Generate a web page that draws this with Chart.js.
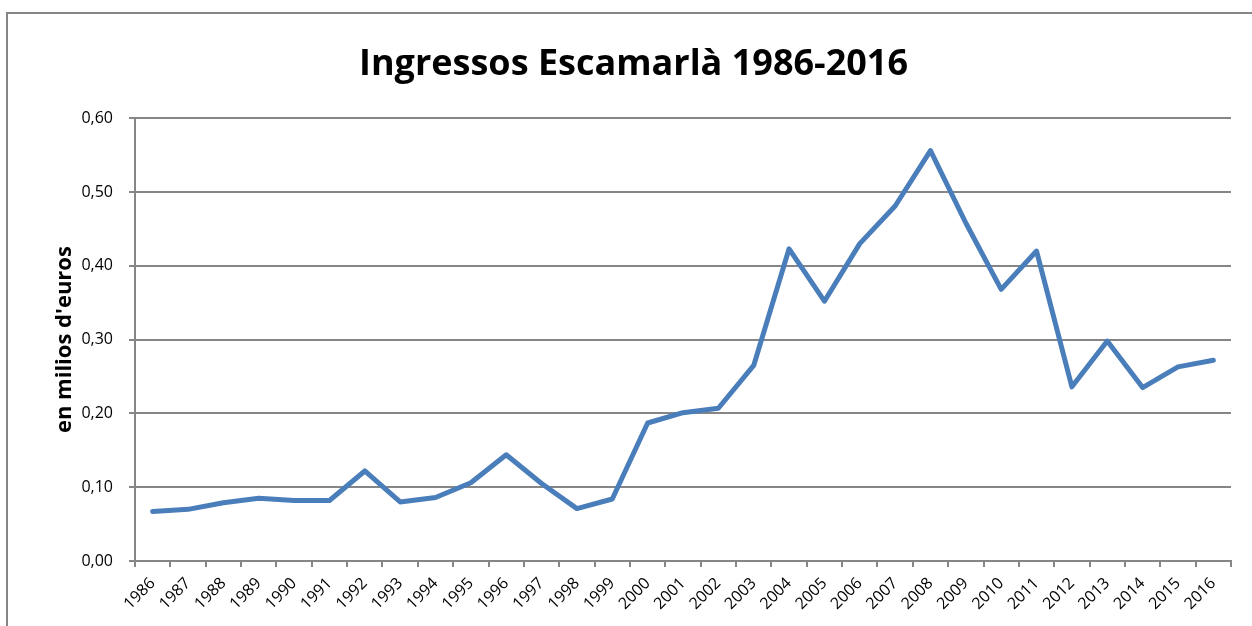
<!DOCTYPE html>
<html>
<head>
<meta charset="utf-8">
<script src="https://cdn.jsdelivr.net/npm/chart.js@4.4.1/dist/chart.umd.min.js"></script>
<style>
  html, body { margin: 0; padding: 0; background: #ffffff; }
  #wrap { width: 1252px; height: 626px; position: relative; }
</style>
</head>
<body>
<div id="wrap"><canvas id="c" width="1252" height="626"></canvas></div>
<script>
const years = ["1986","1987","1988","1989","1990","1991","1992","1993","1994","1995","1996","1997","1998","1999","2000","2001","2002","2003","2004","2005","2006","2007","2008","2009","2010","2011","2012","2013","2014","2015","2016"];
const ingressos = [0.067, 0.070, 0.079, 0.085, 0.082, 0.082, 0.122, 0.080, 0.086, 0.106, 0.144, 0.105, 0.071, 0.084, 0.187, 0.201, 0.207, 0.265, 0.423, 0.352, 0.430, 0.481, 0.556, 0.458, 0.368, 0.420, 0.236, 0.298, 0.235, 0.263, 0.272];
const chartTitle = "Ingressos Escamarlà 1986-2016";
const yAxisTitle = "en milios d'euros";

const GREY = "#868686";
const FONT = "'Open Sans', 'DejaVu Sans', sans-serif";

const borderPlugin = {
  id: "outerBorder",
  beforeDraw(chart) {
    const ctx = chart.ctx;
    ctx.save();
    ctx.strokeStyle = GREY;
    ctx.lineWidth = 2;
    ctx.strokeRect(7, 13, 1400, 1000);
    ctx.restore();
  }
};

new Chart(document.getElementById("c"), {
  type: "line",
  data: {
    labels: years,
    datasets: [{
      data: ingressos,
      borderColor: "#4a7ebb",
      borderWidth: 5,
      pointRadius: 0,
      tension: 0,
      fill: false,
      borderJoinStyle: "round",
      borderCapStyle: "round"
    }]
  },
  options: {
    responsive: false,
    animation: false,
    devicePixelRatio: 1,
    layout: { padding: { left: 36, right: 21, top: 0, bottom: 0 } },
    plugins: {
      legend: { display: false },
      tooltip: { enabled: false },
      title: {
        display: true,
        text: chartTitle,
        color: "#000000",
        font: { family: FONT, size: 36, weight: "bold", lineHeight: 1.2 },
        padding: { top: 43, bottom: 32 }
      }
    },
    scales: {
      x: {
        offset: true,
        grid: { offset: true, drawOnChartArea: false, drawTicks: true, tickLength: 6, color: GREY, lineWidth: 2 },
        border: { display: true, color: GREY, width: 2 },
        ticks: {
          maxRotation: 45, minRotation: 45, autoSkip: false,
          color: "#000000",
          font: { family: FONT, size: 16 },
          padding: 7
        },
        afterFit(s) { s.height = 65; }
      },
      y: {
        min: 0, max: 0.6,
        ticks: {
          stepSize: 0.1,
          color: "#000000",
          font: { family: FONT, size: 16 },
          padding: 16,
          callback: v => v.toFixed(2).replace(".", ",")
        },
        grid: { color: GREY, lineWidth: 2, drawTicks: true, tickLength: 6 },
        border: { display: true, color: GREY, width: 2 },
        title: {
          display: true,
          text: yAxisTitle,
          color: "#000000",
          font: { family: FONT, size: 22, weight: "bold" },
          padding: { top: 16, bottom: 0 }
        },
        afterFit(s) { s.width = 99; }
      }
    }
  },
  plugins: [borderPlugin]
});
</script>
</body>
</html>
